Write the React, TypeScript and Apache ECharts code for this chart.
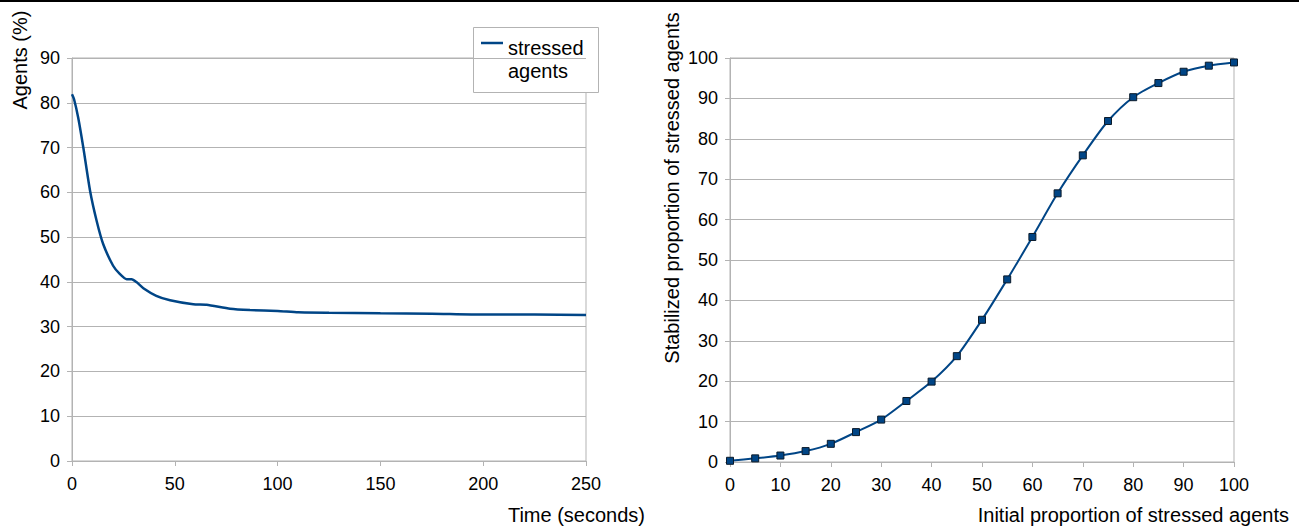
import React, { useEffect, useRef } from "react";
import * as echarts from "echarts";

// Left chart: stressed agents over time
const timeSec = [0, 1, 3, 5.5, 8.8, 12, 15.2, 20, 23, 26.6, 29, 31.5, 34.7, 41, 47.7, 59, 65.5, 76.9, 86.6, 100, 110, 125, 150, 175, 200, 225, 250];
const stressedPct = [81.9, 80.8, 76.7, 70, 60.3, 53.6, 48.4, 43.6, 41.9, 40.6, 40.6, 39.9, 38.6, 36.9, 35.9, 35.0, 34.9, 34.0, 33.7, 33.5, 33.2, 33.1, 33.0, 32.9, 32.7, 32.7, 32.6];

// Right chart: stabilized vs initial proportion
const initialPct = [0, 5, 10, 15, 20, 25, 30, 35, 40, 45, 50, 55, 60, 65, 70, 75, 80, 85, 90, 95, 100];
const stabilizedPct = [0.3, 0.9, 1.6, 2.7, 4.5, 7.4, 10.5, 15.1, 19.9, 26.2, 35.2, 45.2, 55.7, 66.5, 75.9, 84.4, 90.3, 93.8, 96.6, 98.1, 98.9];

const legendName = "stressed\nagents";
const leftYTitle = "Agents (%)";
const leftXTitle = "Time (seconds)";
const rightYTitle = "Stabilized proportion of stressed agents";
const rightXTitle = "Initial proportion of stressed agents";

const FONT = "Liberation Sans, Arial, sans-serif";
const FS = 18;
const TFS = 20;
const GRID_C = "#b3b3b3";
const LINE_C = "#004586";

export default function App() {
  const ref = useRef<HTMLDivElement>(null);
  useEffect(() => {
    if (!ref.current) return;
    const chart = echarts.init(ref.current, null, { renderer: "svg" });
    const axisCommon = {
      axisLine: { show: true, lineStyle: { color: GRID_C, width: 1 } },
      axisTick: { show: true, length: 5, inside: false, lineStyle: { color: GRID_C } },
      axisLabel: { color: "#000", fontSize: FS, fontFamily: FONT, margin: 12 },
    };
    chart.setOption({
      animation: false,
      backgroundColor: "#fff",
      textStyle: { fontFamily: FONT },
      grid: [
        { left: 72, right: 1299 - 586, top: 58, bottom: 66, show: true, borderColor: GRID_C, borderWidth: 1, containLabel: false },
        { left: 730, right: 1299 - 1234, top: 58, bottom: 65, show: true, borderColor: GRID_C, borderWidth: 1, containLabel: false },
      ],
      xAxis: [
        { type: "value", gridIndex: 0, min: 0, max: 250, interval: 50, splitLine: { show: false }, ...axisCommon, axisLabel: { ...axisCommon.axisLabel, margin: 14 } },
        { type: "value", gridIndex: 1, min: 0, max: 100, interval: 10, splitLine: { show: false }, ...axisCommon, axisLabel: { ...axisCommon.axisLabel, margin: 14 } },
      ],
      yAxis: [
        { type: "value", gridIndex: 0, min: 0, max: 90, interval: 10, splitLine: { show: true, lineStyle: { color: GRID_C } }, ...axisCommon },
        { type: "value", gridIndex: 1, min: 0, max: 100, interval: 10, splitLine: { show: true, lineStyle: { color: GRID_C } }, ...axisCommon },
      ],
      series: [
        {
          name: legendName,
          type: "line",
          xAxisIndex: 0,
          yAxisIndex: 0,
          data: timeSec.map((t, i) => [t, stressedPct[i]]),
          showSymbol: false,
          smooth: 0.2,
          lineStyle: { color: LINE_C, width: 2.5 },
        },
        {
          name: "stabilized",
          type: "line",
          xAxisIndex: 1,
          yAxisIndex: 1,
          data: initialPct.map((x, i) => [x, stabilizedPct[i]]),
          symbol: "rect",
          symbolSize: 7,
          smooth: 0.25,
          itemStyle: { color: LINE_C, borderColor: "#0a1a2a", borderWidth: 1 },
          lineStyle: { color: LINE_C, width: 2 },
        },
      ],
      graphic: [
        { type: "rect", left: 0, top: 0, shape: { width: 1299, height: 2 }, style: { fill: "#000" } },
        {
          type: "text",
          x: 20,
          y: 60,
          rotation: Math.PI / 2,
          style: { text: leftYTitle, fontSize: TFS, fontFamily: FONT, fill: "#000", align: "center", verticalAlign: "middle" },
        },
        {
          type: "text",
          x: 645,
          y: 515,
          style: { text: leftXTitle, fontSize: TFS, fontFamily: FONT, fill: "#000", align: "right", verticalAlign: "middle" },
        },
        {
          type: "text",
          x: 672,
          y: 188,
          rotation: Math.PI / 2,
          style: { text: rightYTitle, fontSize: TFS, fontFamily: FONT, fill: "#000", align: "center", verticalAlign: "middle" },
        },
        {
          type: "text",
          x: 1289,
          y: 515,
          style: { text: rightXTitle, fontSize: TFS, fontFamily: FONT, fill: "#000", align: "right", verticalAlign: "middle" },
        },
        {
          type: "group",
          x: 473,
          y: 27,
          children: [
            { type: "rect", shape: { x: 0.5, y: 0.5, width: 125, height: 65 }, style: { fill: "#fff", stroke: GRID_C, lineWidth: 1 } },
            { type: "line", shape: { x1: 8, y1: 16, x2: 30, y2: 16 }, style: { stroke: LINE_C, lineWidth: 2.5 } },
            {
              type: "text",
              x: 35,
              y: 9,
              style: { text: legendName, fontSize: TFS, fontFamily: FONT, fill: "#000", align: "left", verticalAlign: "top", lineHeight: 23 },
            },
          ],
        },
      ],
    });
    return () => chart.dispose();
  }, []);
  return <div ref={ref} style={{ position: "fixed", left: 0, top: 0, width: 1299, height: 527 }} />;
}
